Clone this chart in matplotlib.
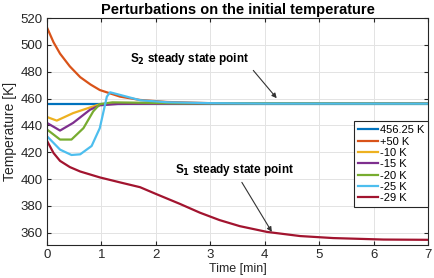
import numpy as np
import matplotlib.pyplot as plt

plt.rcParams['font.family'] = ['Liberation Sans', 'DejaVu Sans']

# time [min] / temperature [K]
t_ss = [0, 7]
T_ss = [456.25, 456.25]

t_p50 = [0, 0.12, 0.24, 0.42, 0.61, 0.8, 0.97, 1.34, 1.71, 2.2, 3, 4, 5, 7]
T_p50 = [513, 502, 493.5, 484, 476, 470.5, 466.4, 461.5, 459, 457.5, 456.6, 456.3, 456.25, 456.25]

t_m10 = [0, 0.18, 0.48, 0.79, 0.95, 1.2, 1.6, 2.5, 7]
T_m10 = [446.3, 443.6, 449.2, 453.4, 455.5, 456, 456.2, 456.25, 456.25]

t_m15 = [0, 0.24, 0.48, 0.79, 0.97, 1.3, 2, 7]
T_m15 = [441.9, 436.2, 441.9, 451.7, 455, 456, 456.25, 456.25]

t_m20 = [0, 0.24, 0.45, 0.67, 0.85, 0.97, 1.2, 1.6, 2.5, 7]
T_m20 = [437, 429.5, 429.5, 438, 450.5, 455.9, 457.2, 457, 456.5, 456.25]

t_m25 = [0, 0.24, 0.45, 0.61, 0.82, 0.97, 1.1, 1.16, 1.46, 1.71, 2.2, 3, 4, 7]
T_m25 = [432, 422, 418, 418.5, 424.7, 438, 461.5, 464.7, 461.5, 458.8, 457.3, 456.6, 456.3, 456.25]

t_m29 = [0, 0.12, 0.24, 0.42, 0.61, 0.97, 1.34, 1.71, 2.0, 2.44, 2.81, 3.17, 3.54, 4.04, 4.65, 5.26, 6.18, 7]
T_m29 = [428.6, 419.5, 413.6, 409, 405.7, 401.3, 397.6, 394, 389, 381.6, 375, 369.5, 365, 360.7, 357.6, 356.1, 355, 354.8]

series = [
    (t_ss, T_ss, '456.25 K', '#0072BD'),
    (t_p50, T_p50, '+50 K', '#D95319'),
    (t_m10, T_m10, '-10 K', '#EDB120'),
    (t_m15, T_m15, '-15 K', '#7E2F8E'),
    (t_m20, T_m20, '-20 K', '#77AC30'),
    (t_m25, T_m25, '-25 K', '#4DBEEE'),
    (t_m29, T_m29, '-29 K', '#A2142F'),
]

fig = plt.figure(figsize=(4.35, 2.78), dpi=100)
ax = fig.add_axes([0.108, 0.119, 0.876, 0.816])

for t, T, lab, c in series:
    ax.plot(t, T, color=c, lw=1.6, label=lab)

ax.set_xlim(0, 7)
ax.set_ylim(351, 520)
ax.set_xticks(np.arange(0, 8, 1))
ax.set_yticks(np.arange(360, 521, 20))
ax.grid(True, color='#e3e3e3', lw=0.7)
ax.set_axisbelow(True)
ax.tick_params(direction='in', top=True, right=True, labelsize=9.5, length=3,
               color='#262626', labelcolor='#262626')
ax.tick_params(axis='x', pad=3)
ax.tick_params(axis='y', pad=3)
for sp in ax.spines.values():
    sp.set_color('#262626')
    sp.set_linewidth(0.8)

ax.set_title('Perturbations on the initial temperature', fontsize=10.5,
             fontweight='bold', pad=3)
ax.set_xlabel('Time [min]', fontsize=9, color='#262626')
ax.xaxis.set_label_coords(0.5, -0.08)
ax.set_ylabel('Temperature [K]', fontsize=10, color='#262626')
ax.yaxis.set_label_coords(-0.078, 0.5)

ax.annotate('', xy=(4.22, 460.3), xytext=(3.79, 481),
            arrowprops=dict(arrowstyle='-|>', color='#333333', lw=0.8,
                            mutation_scale=7, shrinkA=0, shrinkB=0))
ax.text(1.53, 489.8, r'S$_\mathbf{2}$ steady state point', fontsize=8.5,
        fontweight='bold', va='center')

ax.annotate('', xy=(4.13, 360.7), xytext=(3.58, 397.6),
            arrowprops=dict(arrowstyle='-|>', color='#333333', lw=0.8,
                            mutation_scale=7, shrinkA=0, shrinkB=0))
ax.text(2.35, 406.7, r'S$_\mathbf{1}$ steady state point', fontsize=8.5,
        fontweight='bold', va='center')

leg = ax.legend(loc='upper right', bbox_to_anchor=(1.0, 0.545), borderaxespad=0,
                fontsize=8, fancybox=False, edgecolor='#262626', framealpha=1,
                handlelength=1.8, handletextpad=0.15, labelspacing=0.12,
                borderpad=0.35)
leg.get_frame().set_linewidth(0.8)

fig.savefig('out.png', dpi=100)
